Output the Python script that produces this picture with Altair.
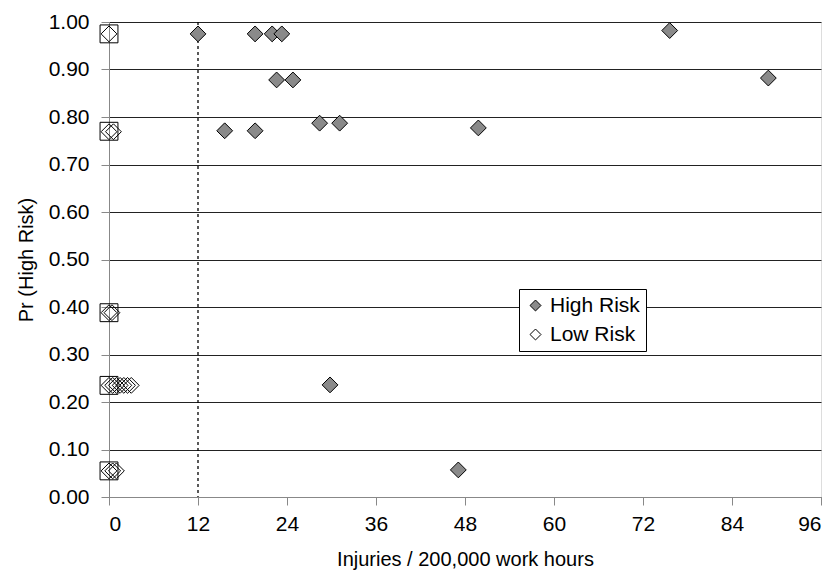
import altair as alt
import pandas as pd

# High Risk points (injuries, probability)
high_x = [12.0, 19.7, 22.0, 23.3, 22.6, 24.8, 15.6, 19.7, 28.4, 31.1, 49.8, 75.6, 88.9, 29.8, 47.1]
high_y = [0.975, 0.975, 0.975, 0.975, 0.878, 0.878, 0.771, 0.771, 0.787, 0.787, 0.777, 0.982, 0.882, 0.236, 0.057]

# Low Risk points
low_x = [0.0, 0.0, 0.6, 0.0, 0.4, 0.0, 0.5, 1.0, 1.5, 2.0, 2.5, 3.0, 0.0, 0.5, 1.0]
low_y = [0.975, 0.769, 0.769, 0.388, 0.388, 0.235, 0.235, 0.235, 0.235, 0.235, 0.235, 0.235, 0.055, 0.055, 0.055]

# Boxed markers at zero injuries
box_x = [0.0, 0.0, 0.0, 0.0, 0.0]
box_y = [0.975, 0.770, 0.388, 0.235, 0.055]

# Cutoff line
cutoff_x = [12]

x_ticks = [0, 12, 24, 36, 48, 60, 72, 84, 96]
y_ticks = [0.0, 0.1, 0.2, 0.3, 0.4, 0.5, 0.6, 0.7, 0.8, 0.9, 1.0]

FONT = "Liberation Sans"

pts = pd.DataFrame({
    "x": high_x + low_x,
    "y": high_y + low_y,
    "risk": ["High Risk"] * len(high_x) + ["Low Risk"] * len(low_x),
})
boxes = pd.DataFrame({"x": box_x, "y": box_y})
cut = pd.DataFrame({"x": cutoff_x})

xs = alt.Scale(domain=[0, 96], nice=False, zero=False)
ys = alt.Scale(domain=[0, 1], nice=False)

x_axis = alt.Axis(values=x_ticks, title="Injuries / 200,000 work hours", grid=False,
                  labelFontSize=21, titleFontSize=20, labelPadding=8, titlePadding=15,
                  tickSize=8, titleFontWeight="normal")
y_axis = alt.Axis(values=y_ticks, format=".2f", title="Pr (High Risk)", grid=True,
                  gridColor="#222222", gridWidth=1, labelFontSize=21, titleFontSize=20,
                  labelPadding=12, titlePadding=12, tickSize=8, titleFontWeight="normal")

base_pts = alt.Chart(pts).mark_point(shape="diamond", size=250, strokeWidth=1, opacity=1, filled=False).encode(
    x=alt.X("x:Q", scale=xs, axis=x_axis),
    y=alt.Y("y:Q", scale=ys, axis=y_axis),
    fill=alt.Fill("risk:N", scale=alt.Scale(domain=["High Risk", "Low Risk"], range=["#8a8a8a", "transparent"]),
                  legend=alt.Legend(title=None, orient="none", legendX=410, legendY=267,
                                    strokeColor="black", fillColor="white", padding=6,
                                    labelFontSize=21, labelFont=FONT, symbolSize=120,
                                    symbolStrokeColor="black", symbolStrokeWidth=1,
                                    symbolType="diamond", rowPadding=7, labelOffset=4)),
    stroke=alt.value("black"),
)

box_layer = alt.Chart(boxes).mark_point(shape="square", size=320, filled=False, color="black", strokeWidth=1, opacity=1).encode(
    x=alt.X("x:Q", scale=xs),
    y=alt.Y("y:Q", scale=ys),
)

cut_layer = alt.Chart(cut).mark_rule(color="black", strokeDash=[3, 3], strokeWidth=1.3).encode(
    x=alt.X("x:Q", scale=xs),
)

chart = alt.layer(cut_layer, box_layer, base_pts).properties(
    width=712, height=475,
    autosize=alt.AutoSizeParams(type="none"),
    padding={"left": 101, "top": 14, "right": 8, "bottom": 76},
).configure_view(
    stroke="black", strokeWidth=1
).configure_axis(
    labelFont=FONT, titleFont=FONT, domainColor="black", tickColor="black",
    labelColor="black", titleColor="black", domainWidth=1
).configure(background="white")

chart.save("out.html", embed_options={"renderer": "svg", "actions": False})
